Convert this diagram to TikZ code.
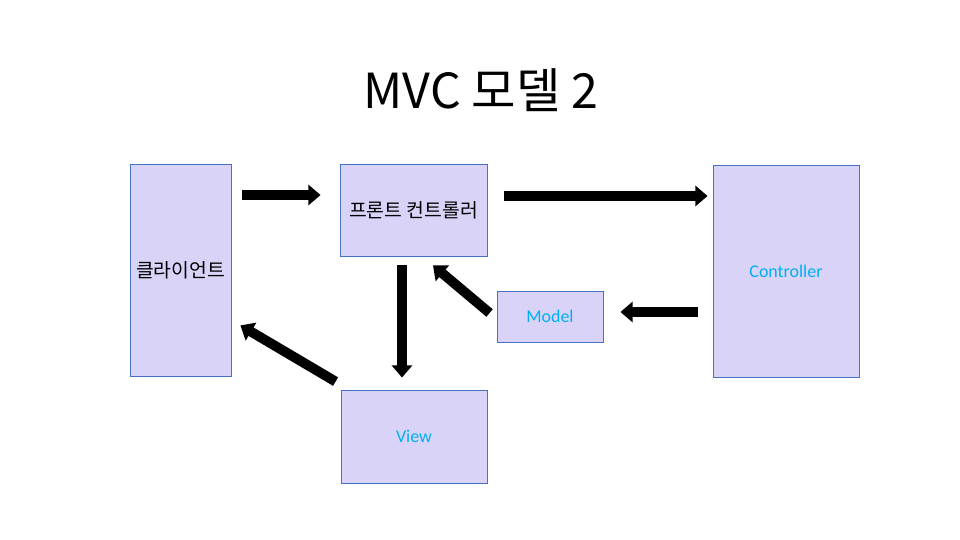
\documentclass[tikz,border=0pt]{standalone}
\usepackage{fontspec}
\setmainfont{Carlito}
\newfontfamily\kr{Noto Sans CJK KR}
\usetikzlibrary{arrows.meta}
\definecolor{boxfill}{RGB}{217,211,248}
\definecolor{boxline}{RGB}{68,114,196}
\definecolor{labelblue}{RGB}{0,176,240}
\tikzset{
  box/.style={draw=boxline,fill=boxfill,line width=0.5pt,inner sep=0pt,align=center},
  blk/.style={line width=5.6pt,black,-{Triangle[width=11.5pt,length=7pt]}}
}
\begin{document}
\begin{tikzpicture}[x=0.02cm,y=-0.02cm]
    \useasboundingbox (0,0) rectangle (960,540);
    \node (title) at (481,90) {\kr\fontsize{27.5}{32}\selectfont MVC 모델 2};
    
    \node[box,minimum width=2.02cm,minimum height=4.24cm] (client) at (180.5,270) {\kr\fontsize{11}{13}\selectfont 클라이언트};
    \node[box,minimum width=2.94cm,minimum height=1.84cm] (front) at (413.5,210) {\kr\fontsize{11}{13}\selectfont 프론트 컨트롤러};
    \node[box,minimum width=2.92cm,minimum height=4.24cm,text=labelblue] (ctrl) at (786,271) {\fontsize{10.2}{12}\selectfont Controller};
    \node[box,minimum width=2.12cm,minimum height=1.02cm,text=labelblue] (model) at (550,316.5) {\fontsize{10.2}{12}\selectfont Model};
    \node[box,minimum width=2.92cm,minimum height=1.86cm,text=labelblue] (view) at (414,436.5) {\fontsize{10.2}{12}\selectfont View};
    
    \draw[blk,shorten <=0.22cm,shorten >=0.38cm] (client.east |- 0,195) -- (front.west |- 0,195);
    \draw[blk,shorten <=0.34cm,shorten >=0.1cm] (front.east |- 0,196) -- (ctrl.west |- 0,196);
    \draw[blk,shorten <=0.18cm,shorten >=0.24cm] (402,0 |- front.south) -- (402,0 |- view.north);
    \draw[blk] ([xshift=-0.14cm,yshift=0.07cm]model.west) -- ([xshift=0.39cm,yshift=-0.18cm]front.south);
    \draw[blk,shorten <=0.3cm,shorten >=0.34cm] (ctrl.west |- 0,312) -- (model.east |- 0,312);
    \draw[blk] ([xshift=-0.1cm,yshift=0.16cm]view.north west) -- ([xshift=0.18cm,yshift=1.02cm]client.south east);
\end{tikzpicture}
\end{document}
